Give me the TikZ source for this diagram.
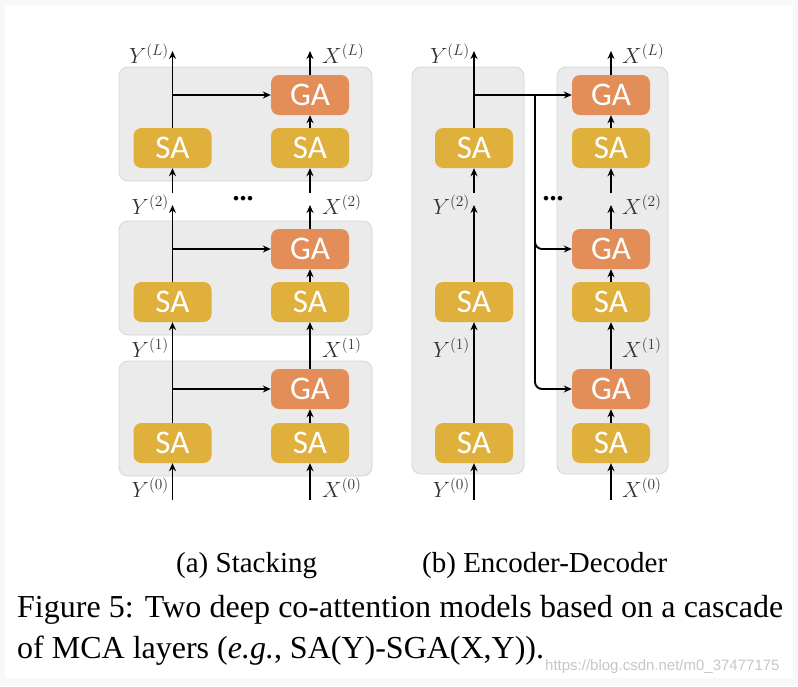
\RequirePackage{fix-cm}
\documentclass[tikz,border=0pt]{standalone}
\usepackage{fontspec}
\setmainfont{Liberation Serif}
\newfontfamily\boxfont{Carlito}
\newfontfamily\markfont{Liberation Sans}
\usetikzlibrary{arrows.meta}
\definecolor{sayellow}{RGB}{224,176,60}
\definecolor{gaorange}{RGB}{227,142,88}
\definecolor{layergrey}{RGB}{235,235,235}
\definecolor{layerline}{RGB}{214,214,214}
\definecolor{pageedge}{RGB}{247,248,250}
\begin{document}
\begin{tikzpicture}[x=1pt,y=-1pt,
        layer/.style={draw=layerline,fill=layergrey,line width=0.8pt,rounded corners=9pt},
        sabox/.style={fill=sayellow,rounded corners=8pt,minimum width=78pt,minimum height=40pt,inner sep=0pt,text=white,font=\boxfont\fontsize{33}{33}\selectfont},
        gabox/.style={sabox,fill=gaorange},
        flow/.style={line width=1.9pt,-{Stealth[length=8pt,width=7pt]}},
        lab/.style={inner sep=0pt,text=black!80,font=\fontsize{22}{22}\selectfont},
        dots/.style={inner sep=0pt,font=\fontsize{28}{28}\selectfont\bfseries},
        captext/.style={inner sep=0pt,anchor=base west,font=\fontsize{29}{29}\selectfont},
        figtext/.style={inner sep=0pt,anchor=base west,font=\fontsize{32}{32}\selectfont}]
    \fill[pageedge] (0,0) rectangle (798,686);
    \fill[white] (5,5) rectangle (793,678);

    \foreach \n/\g/\s in {1/389/443, 2/249/302, 3/95/148} {
            \draw[layer] (119,{\g-28}) rectangle (372,{\s+33});
            \node[gabox] (gaA\n) at (310,\g) {GA};
            \node[sabox] (syA\n) at (172.5,\s) {SA};
            \node[sabox] (sxA\n) at (310,\s) {SA};
            \draw[flow] (sxA\n) -- (gaA\n);
            \draw[flow] (syA\n |- gaA\n) -- (gaA\n);
        }
    \coordinate (inYa) at (172.5,500);
    \coordinate (inXa) at (310,500);
    \coordinate (midYa) at (172.5,205);
    \coordinate (midXa) at (310,205);
    \coordinate (resYa) at (172.5,193);
    \coordinate (resXa) at (310,193);
    \coordinate (topYa) at (172.5,51);
    \coordinate (topXa) at (310,51);
    \draw[flow] (inYa) -- (syA1);
    \draw[flow] (inXa) -- (sxA1);
    \draw[flow] (syA1) -- (syA2);
    \draw[flow] (gaA1) -- (sxA2);
    \draw[flow] (syA2) -- (midYa);
    \draw[flow] (gaA2) -- (midXa);
    \draw[flow] (resYa) -- (syA3);
    \draw[flow] (resXa) -- (sxA3);
    \draw[flow] (syA3) -- (topYa);
    \draw[flow] (gaA3) -- (topXa);
    \node[lab,anchor=base east] (y0a) at (169,497) {$Y^{(0)}$};
    \node[lab,anchor=base east] (y1a) at (169,357) {$Y^{(1)}$};
    \node[lab,anchor=base east] (y2a) at (169,214) {$Y^{(2)}$};
    \node[lab,anchor=base east] (yLa) at (169,63) {$Y^{(L)}$};
    \node[lab,anchor=base west] (x0a) at (322,497) {$X^{(0)}$};
    \node[lab,anchor=base west] (x1a) at (322,357) {$X^{(1)}$};
    \node[lab,anchor=base west] (x2a) at (322,214) {$X^{(2)}$};
    \node[lab,anchor=base west] (xLa) at (322,63) {$X^{(L)}$};
    \node[dots] (dotsA) at (243,199) {...};

    \draw[layer] (412,67) rectangle (524,474);
    \draw[layer] (557,67) rectangle (668,474);
    \foreach \n/\g/\s in {1/389/443, 2/249/302, 3/95/148} {
            \node[sabox] (syB\n) at (474,\s) {SA};
            \node[gabox] (gaB\n) at (611,\g) {GA};
            \node[sabox] (sxB\n) at (611,\s) {SA};
            \draw[flow] (sxB\n) -- (gaB\n);
        }
    \coordinate (split) at (535,95);
    \draw[flow] (syB3.north |- gaB3) -- (gaB3);
    \draw[flow,rounded corners=7pt] (split) |- (gaB2);
    \draw[flow,rounded corners=7pt] (split) |- (gaB1);
    \coordinate (inYb) at (474,500);
    \coordinate (inXb) at (611,500);
    \coordinate (midYb) at (474,205);
    \coordinate (midXb) at (611,205);
    \coordinate (resYb) at (474,193);
    \coordinate (resXb) at (611,193);
    \coordinate (topYb) at (474,51);
    \coordinate (topXb) at (611,51);
    \draw[flow] (inYb) -- (syB1);
    \draw[flow] (inXb) -- (sxB1);
    \draw[flow] (syB1) -- (syB2);
    \draw[flow] (gaB1) -- (sxB2);
    \draw[flow] (syB2) -- (midYb);
    \draw[flow] (gaB2) -- (midXb);
    \draw[flow] (resYb) -- (syB3);
    \draw[flow] (resXb) -- (sxB3);
    \draw[flow] (syB3) -- (topYb);
    \draw[flow] (gaB3) -- (topXb);
    \node[lab,anchor=base east] (y0b) at (470,497) {$Y^{(0)}$};
    \node[lab,anchor=base east] (y1b) at (470,357) {$Y^{(1)}$};
    \node[lab,anchor=base east] (y2b) at (470,214) {$Y^{(2)}$};
    \node[lab,anchor=base east] (yLb) at (470,63) {$Y^{(L)}$};
    \node[lab,anchor=base west] (x0b) at (622,497) {$X^{(0)}$};
    \node[lab,anchor=base west] (x1b) at (622,357) {$X^{(1)}$};
    \node[lab,anchor=base west] (x2b) at (622,214) {$X^{(2)}$};
    \node[lab,anchor=base west] (xLb) at (622,63) {$X^{(L)}$};
    \node[dots] (dotsB) at (553,199) {...};

    \node[captext] (capA) at (176,572) {(a) Stacking};
    \node[captext] (capB) at (422,572) {(b) Encoder-Decoder};
    \node[figtext] (figA) at (17,617) {\makebox[766pt][s]{Figure 5: Two deep co-attention models based on a cascade}};
    \node[figtext] (figB) at (17,658) {of MCA layers (\textit{e.g.}, SA(Y)-SGA(X,Y)).};
    \node[anchor=base west,inner sep=0pt,text=black!22,font=\markfont\fontsize{15}{15}\selectfont] (mark) at (545,670) {https://blog.csdn.net/m0\_37477175};
\end{tikzpicture}
\end{document}
